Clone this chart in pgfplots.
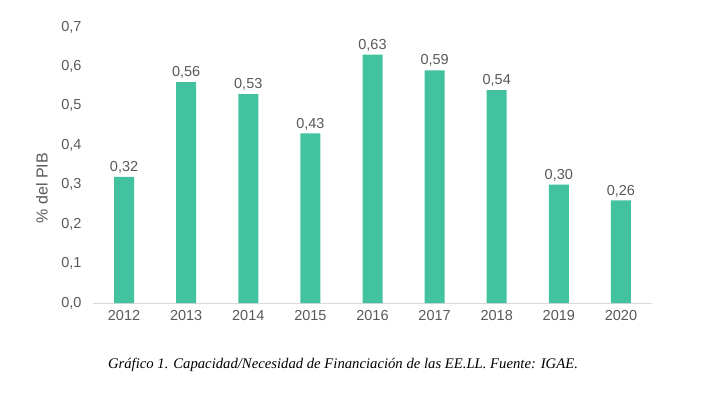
\documentclass[border=0pt]{standalone}
\usepackage{fontspec}
\setmainfont{Liberation Sans}
\newfontfamily\capfont{Liberation Serif}
\usepackage{pgfplots}
\pgfplotsset{compat=1.18}
\definecolor{barg}{HTML}{43C2A0}
\definecolor{txt}{HTML}{595959}
\definecolor{axl}{HTML}{D9D9D9}
\begin{document}
\begin{tikzpicture}
\path[use as bounding box] (0,0) rectangle (701pt,394pt);
\begin{axis}[
  at={(93pt,91pt)}, anchor=south west,
  scale only axis, width=559pt, height=276pt,
  xmin=-0.5, xmax=8.5, ymin=0, ymax=0.7,
  axis x line*=bottom, axis y line*=left,
  x axis line style={draw=axl, line width=1pt},
  y axis line style={draw=none},
  xtick=data, xticklabels={2012,2013,2014,2015,2016,2017,2018,2019,2020},
  major tick length=0pt,
  ytick={0,0.1,0.2,0.3,0.4,0.5,0.6,0.7},
  /pgf/number format/assume math mode=true,
  ticklabel style={font=\fontsize{14.5}{17}\selectfont, text=txt},
  xticklabel style={yshift=-4pt},
  yticklabel style={xshift=-8pt, /pgf/number format/.cd, use comma, fixed, fixed zerofill, precision=1},
  ybar, bar width=20pt,
  nodes near coords,
  nodes near coords style={font=\fontsize{14.5}{17}\selectfont, text=txt, /pgf/number format/.cd, use comma, fixed, fixed zerofill, precision=2, assume math mode=true},
  clip=false,
]
\addplot[fill=barg, draw=none] coordinates {(0,0.32) (1,0.56) (2,0.53) (3,0.43) (4,0.63) (5,0.59) (6,0.54) (7,0.30) (8,0.26)};
\end{axis}
\node[rotate=90, text=txt, font=\fontsize{16}{19}\selectfont] at (42pt,206pt) {\% del PIB};
\node[text=black, font=\capfont\itshape\fontsize{14.7}{17}\selectfont] at (343pt,29pt) {Gráfico 1. Capacidad/Necesidad de Financiación de las EE.LL. Fuente: IGAE.};
\end{tikzpicture}
\end{document}
